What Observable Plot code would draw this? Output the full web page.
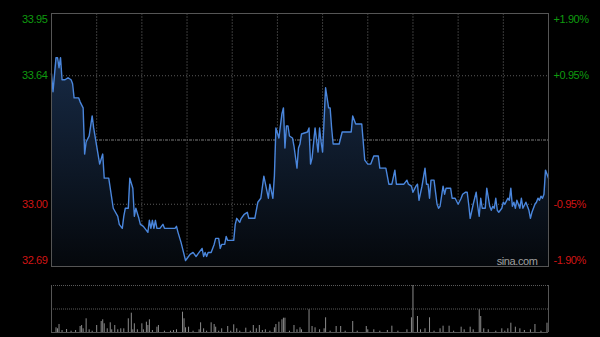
<!DOCTYPE html>
<html><head><meta charset="utf-8">
<script src="https://cdn.jsdelivr.net/npm/d3@7"></script>
<script src="https://cdn.jsdelivr.net/npm/@observablehq/plot@0.6"></script>
<style>
html,body{margin:0;padding:0;background:#000;}
#chart{width:600px;height:337px;background:#000;position:relative;overflow:hidden;}
#chart svg{display:block;}
#chart svg text{letter-spacing:-0.4px;}
</style></head>
<body><div id="chart"></div>
<script>
// Minute index of the trading day (HK session, 330 minutes) and price
const minutes = [0,1,3,4,5,6,7,9,11,13,14,15,18,19,21,22,23,25,27,28,30,32,34,35,38,39,41,44,45,47,48,49,51,52,54,55,56,58,59,61,64,65,66,67,68,69,70,72,74,75,82,83,84,86,88,89,90,92,94,96,98,100,101,102,103,104,106,108,109,111,112,113,115,116,117,121,122,123,125,126,128,130,131,135,137,139,141,144,145,147,148,149,151,153,154,155,156,157,158,160,161,163,164,165,166,170,171,172,173,175,177,178,179,180,182,183,184,185,186,187,191,193,199,200,202,206,208,210,212,214,217,218,222,224,226,228,229,234,236,237,239,240,242,243,244,246,248,249,250,251,252,254,256,257,258,260,261,262,265,266,268,270,272,273,275,276,277,278,280,281,282,283,284,285,286,288,289,291,292,293,294,295,296,297,299,300,301,303,304,305,306,307,308,309,311,312,313,315,317,318,319,321,322,323,324,325,326,327,328,330];
const prices = [33.65,33.56,33.73,33.73,33.68,33.73,33.62,33.62,33.63,33.62,33.60,33.53,33.53,33.51,33.48,33.25,33.31,33.34,33.44,33.38,33.29,33.20,33.25,33.13,33.13,33.08,32.98,32.94,32.90,32.88,32.94,32.98,32.98,33.13,33.08,32.94,32.98,32.93,32.90,32.89,32.86,32.92,32.88,32.92,32.88,32.92,32.88,32.88,32.90,32.88,32.88,32.89,32.86,32.81,32.75,32.72,32.73,32.75,32.76,32.74,32.76,32.78,32.74,32.76,32.74,32.76,32.76,32.80,32.83,32.83,32.78,32.80,32.80,32.84,32.82,32.82,32.90,32.93,32.91,32.93,32.95,32.96,32.93,32.93,33.01,33.03,33.14,33.03,33.10,33.03,33.14,33.38,33.33,33.45,33.48,33.28,33.39,33.39,33.34,33.33,33.29,33.18,33.28,33.30,33.35,33.36,33.38,33.20,33.23,33.38,33.26,33.38,33.31,33.26,33.58,33.53,33.48,33.48,33.38,33.30,33.30,33.36,33.36,33.44,33.40,33.40,33.22,33.20,33.20,33.24,33.24,33.18,33.18,33.10,33.10,33.17,33.10,33.10,33.12,33.10,33.09,33.06,33.09,33.10,33.02,33.09,33.18,33.10,33.10,33.03,33.12,33.12,33.00,32.98,32.99,33.09,33.05,33.08,33.08,33.03,33.03,33.00,33.03,33.05,33.06,33.06,33.00,32.93,33.00,33.03,33.06,32.99,32.94,33.03,32.98,32.98,33.08,32.99,32.97,32.99,32.98,33.03,32.97,32.96,32.98,33.01,33.00,33.03,33.02,33.08,32.99,33.01,32.98,33.02,32.98,33.03,32.98,33.01,32.97,32.93,32.96,33.00,33.01,33.03,33.02,33.04,33.03,33.05,33.17,33.13];

// Volume per minute (shares)
const volMinutes = [0,3,4,5,7,10,13,16,19,20,21,23,25,27,30,33,34,35,37,39,40,42,44,46,48,51,53,54,55,57,60,61,63,64,65,67,70,71,75,79,81,83,87,88,89,91,94,98,99,101,103,106,108,109,111,113,117,119,121,123,125,129,132,134,136,138,140,142,145,148,149,151,153,154,155,158,161,163,165,166,171,173,175,178,181,182,185,189,192,195,200,203,209,210,214,218,223,226,230,236,239,240,243,245,248,251,254,258,260,264,267,272,274,278,280,284,285,287,290,295,299,301,303,305,308,311,314,318,321,325,329];
const volumes = [8000,4700,3700,8000,2000,3000,1300,2000,6000,7000,3700,13700,2700,1300,7000,11000,12700,8700,3700,9700,2700,7000,2700,3700,3700,13700,19300,2700,8700,2700,8700,2700,10300,7000,12700,2000,5300,7000,1300,1300,2000,2700,20300,13700,4700,5300,1300,2700,9700,3700,1300,9700,8000,5300,1300,3700,6000,1300,7700,3700,1300,4300,1300,7000,3700,7000,2000,2700,1300,4700,8000,10300,12700,14300,14300,1300,7000,2700,4700,2700,22700,6000,4700,2700,3700,14700,1300,6000,6000,1300,11000,1300,6000,2700,2700,1300,2000,6300,1300,2700,14700,47000,16000,2700,3700,14700,1300,3700,6300,6300,1300,5300,2700,5300,2700,22700,16000,3700,2700,1300,3700,1300,3700,9300,5300,3700,2000,2700,8000,1300,9300];

const prevClose = 33.32;
const yTop = 33.95, yBottom = 32.69;
const leftTop = [{v: 33.95, t: "33.95"}];
const leftMid = [{v: 33.64, t: "33.64", c: "up"}, {v: 33.00, t: "33.00", c: "down"}];
const leftBottom = [{v: 32.69, t: "32.69"}];
const rightTop = [{v: 33.95, t: "+1.90%"}];
const rightMid = [{v: 33.64, t: "+0.95%", c: "up"}, {v: 33.00, t: "-0.95%", c: "down"}];
const rightBottom = [{v: 32.69, t: "-1.90%"}];
const gridMinutes = [30,60,90,120,150,180,210,240,270,300];

const UP = "#0f9a0f", DOWN = "#d01515";
const FONT = "Liberation Sans, Arial, sans-serif";

const data = minutes.map((m, i) => ({m, p: prices[i]}));
const vol = volMinutes.map((m, i) => ({m, v: volumes[i]}));

const main = Plot.plot({
  width: 600, height: 276,
  marginLeft: 51, marginRight: 52, marginTop: 13, marginBottom: 10,
  style: {background: "transparent", fontFamily: FONT, fontSize: "11px"},
  x: {domain: [0, 330], axis: null},
  y: {domain: [yBottom, yTop], axis: null},
  marks: [
    Plot.ruleX(gridMinutes, {stroke: "#3a3a3a", strokeDasharray: "2,1"}),
    Plot.ruleY([33.64, 33.00], {stroke: "#5a5a5a", strokeDasharray: "1,2"}),
    Plot.ruleY([prevClose], {stroke: "#7a7a7a", strokeDasharray: "3,1,1,1"}),
    Plot.areaY(data, {x: "m", y1: yBottom, y2: "p", fill: "url(#areaGrad)"}),
    Plot.lineY(data, {x: "m", y: "p", stroke: "#4a86dc", strokeWidth: 1.4}),
    Plot.frame({stroke: "#555"}),
    Plot.text(["sina.com"], {x: 330, y: yBottom, dx: -11, dy: -5, textAnchor: "end", fill: "#a0a0a0", fontSize: 11}),
    Plot.text(leftTop, {x: 0, y: "v", text: "t", dx: -4, dy: 6, textAnchor: "end", fill: UP}),
    Plot.text(leftMid, {x: 0, y: "v", text: "t", dx: -4, textAnchor: "end", fill: d => d.c === "up" ? UP : DOWN}),
    Plot.text(leftBottom, {x: 0, y: "v", text: "t", dx: -4, dy: -6, textAnchor: "end", fill: DOWN}),
    Plot.text(rightTop, {x: 330, y: "v", text: "t", dx: 5, dy: 6, textAnchor: "start", fill: UP}),
    Plot.text(rightMid, {x: 330, y: "v", text: "t", dx: 5, textAnchor: "start", fill: d => d.c === "up" ? UP : DOWN}),
    Plot.text(rightBottom, {x: 330, y: "v", text: "t", dx: 5, dy: -6, textAnchor: "start", fill: DOWN})
  ]
});

// gradient for the area under the price line
const ns = "http://www.w3.org/2000/svg";
const defs = document.createElementNS(ns, "defs");
const grad = document.createElementNS(ns, "linearGradient");
grad.setAttribute("id", "areaGrad");
grad.setAttribute("x1", "0"); grad.setAttribute("y1", "0");
grad.setAttribute("x2", "0"); grad.setAttribute("y2", "1");
[["0", "#172a45"], ["1", "#05080c"]].forEach(([o, c]) => {
  const s = document.createElementNS(ns, "stop");
  s.setAttribute("offset", o); s.setAttribute("stop-color", c);
  grad.appendChild(s);
});
defs.appendChild(grad);
main.insertBefore(defs, main.firstChild);

const volMax = d3.max(volumes);
const volume = Plot.plot({
  width: 600, height: 61,
  marginLeft: 51, marginRight: 52, marginTop: 9, marginBottom: 5,
  style: {background: "transparent"},
  x: {domain: [0, 330], axis: null},
  y: {domain: [0, volMax], axis: null},
  marks: [
    Plot.ruleY([volMax, volMax / 2], {stroke: "#5a5a5a", strokeDasharray: "1,1"}),
    Plot.ruleX(vol, {x: "m", y1: 0, y2: "v", stroke: "#8a8a8a", strokeWidth: 1}),
    Plot.ruleY([0], {stroke: "#555"}),
    Plot.ruleX([0, 330], {stroke: "#555"})
  ]
});

const el = document.getElementById("chart");
el.appendChild(main);
el.appendChild(volume);
</script></body></html>
